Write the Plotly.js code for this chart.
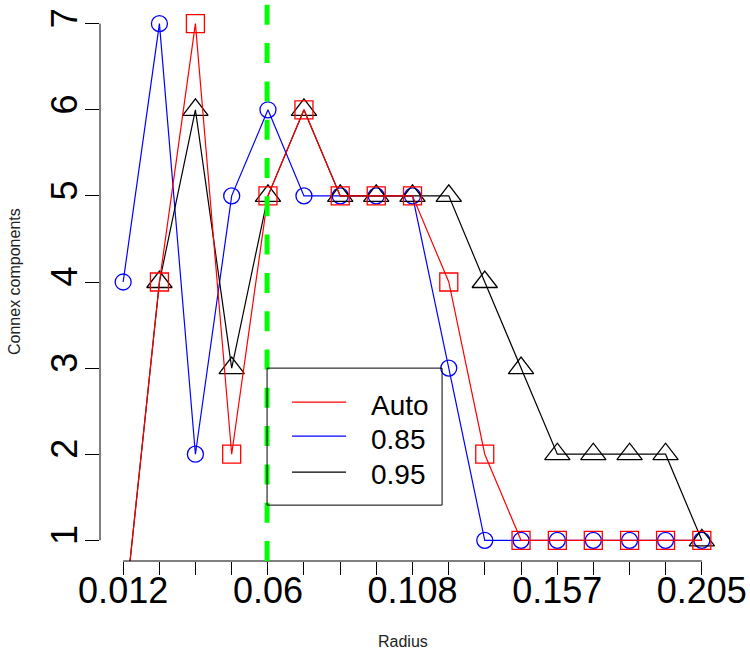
<!DOCTYPE html>
<html>
<head>
<meta charset="utf-8">
<script src="https://cdn.plot.ly/plotly-3.0.1.min.js"></script>
<style>
  html, body { margin: 0; padding: 0; background: #ffffff; }
  #chart { width: 750px; height: 656px; }
</style>
</head>
<body>
<div id="chart"></div>
<script>
// ---- data ----
const radius = [0.012, 0.0241, 0.0361, 0.0482, 0.0603, 0.0723, 0.0844, 0.0964, 0.1085,
                0.1206, 0.1326, 0.1447, 0.1568, 0.1688, 0.1809, 0.1929, 0.205];
const autoVals = [0, 4, 7, 2, 5, 6, 5, 5, 5, 4, 2, 1, 1, 1, 1, 1, 1];
const q85Vals  = [4, 7, 2, 5, 6, 5, 5, 5, 5, 3, 1, 1, 1, 1, 1, 1, 1];
const q95Vals  = [0, 4, 6, 3, 5, 6, 5, 5, 5, 5, 4, 3, 2, 2, 2, 2, 1];
const seriesNames = ["Auto", "0.85", "0.95"];
const xTickLabels = ["0.012", "", "", "", "0.06", "", "", "", "0.108", "", "", "",
                     "0.157", "", "", "", "0.205"];
const yTicks = [1, 2, 3, 4, 5, 6, 7];
const xTitle = "Radius";
const yTitle = "Connex components";
const cutoff = 0.06;
const legendAt = {x: 0.06, y: 3};

const FONT = "Liberation Sans, Arial, sans-serif";
const colors = {auto: "#FF0000", q85: "#0000FF", q95: "#000000"};

const traces = [
  {x: radius, y: q85Vals, name: seriesNames[1], mode: "lines+markers", showlegend: false,
   line: {color: colors.q85, width: 1.2},
   marker: {symbol: "circle-open", size: 16, color: colors.q85, line: {width: 1.3, color: colors.q85}}},
  {x: radius, y: q95Vals, name: seriesNames[2], mode: "lines+markers", showlegend: false,
   line: {color: colors.q95, width: 1.2},
   marker: {symbol: "triangle-up-open", size: 22, color: colors.q95, line: {width: 1.3, color: colors.q95}}},
  {x: radius, y: autoVals, name: seriesNames[0], mode: "lines+markers", showlegend: false,
   line: {color: colors.auto, width: 1.2},
   marker: {symbol: "square-open", size: 18, color: colors.auto, line: {width: 1.3, color: colors.auto}}}
];

const xSpan = radius[radius.length - 1] - radius[0];
const xPad = xSpan * 0.04;
const ySpan = yTicks[yTicks.length - 1] - yTicks[0];
const yPad = ySpan * 0.04;

const shapes = [
  // axis lines (R style, spanning first to last tick)
  {type: "line", xref: "x", yref: "paper", x0: radius[0], x1: radius[radius.length - 1], y0: 0, y1: 0,
   line: {color: "#000", width: 1}, layer: "above"},
  {type: "line", xref: "paper", yref: "y", x0: 0, x1: 0, y0: yTicks[0], y1: yTicks[yTicks.length - 1],
   line: {color: "#000", width: 1}, layer: "above"},
  // cutoff line
  {type: "line", xref: "x", yref: "paper", x0: cutoff, x1: cutoff, y0: 0, y1: 1,
   line: {color: "#00FF00", width: 5, dash: "20px,18.3px"}, layer: "above"},
  // legend box
  {type: "rect", xref: "x", yref: "y", xsizemode: "pixel", ysizemode: "pixel",
   xanchor: legendAt.x, yanchor: legendAt.y, x0: 0, x1: 175, y0: 0, y1: -137,
   line: {color: "#000", width: 1}, fillcolor: "rgba(0,0,0,0)", layer: "above"}
];

const legendRows = [
  {name: seriesNames[0], color: colors.auto, dy: 34, ty: 37},
  {name: seriesNames[1], color: colors.q85, dy: 68, ty: 71},
  {name: seriesNames[2], color: colors.q95, dy: 104, ty: 106}
];
const annotations = [
  {text: xTitle, xref: "paper", yref: "paper", x: 0.4848, y: -0.1434, xanchor: "center", yanchor: "middle",
   showarrow: false, font: {family: FONT, size: 16, color: "#222"}},
  {text: yTitle, xref: "paper", yref: "paper", x: -0.1376, y: 0.5, xanchor: "center", yanchor: "middle",
   textangle: -90, showarrow: false, font: {family: FONT, size: 16, color: "#222"}}
];
legendRows.forEach(r => {
  shapes.push({type: "line", xref: "x", yref: "y", xsizemode: "pixel", ysizemode: "pixel",
    xanchor: legendAt.x, yanchor: legendAt.y, x0: 25, x1: 79, y0: -r.dy, y1: -r.dy,
    line: {color: r.color, width: 1.3}, layer: "above"});
  annotations.push({x: legendAt.x, y: legendAt.y, xref: "x", yref: "y", xshift: 102, yshift: -r.ty,
    xanchor: "left", yanchor: "middle", showarrow: false, text: r.name,
    font: {family: FONT, size: 28, color: "#000"}});
});

const layout = {
  width: 750, height: 656,
  margin: {l: 100, r: 25, t: 3, b: 95},
  paper_bgcolor: "#ffffff", plot_bgcolor: "#ffffff",
  font: {family: FONT, color: "#000"},
  showlegend: false,
  xaxis: {
    range: [radius[0] - xPad, radius[radius.length - 1] + xPad],
    tickmode: "array", tickvals: radius, ticktext: xTickLabels, tickangle: 0,
    ticks: "outside", ticklen: 13, tickwidth: 1, tickcolor: "#000",
    showgrid: false, zeroline: false, showline: false, automargin: false,
    ticklabelstandoff: -15,
    tickfont: {family: FONT, size: 36, color: "#000"}
  },
  yaxis: {
    range: [yTicks[0] - yPad, yTicks[yTicks.length - 1] + yPad],
    tickmode: "array", tickvals: yTicks, ticktext: yTicks.map(String), tickangle: -90,
    ticks: "outside", ticklen: 14, tickwidth: 1, tickcolor: "#000",
    showgrid: false, zeroline: false, showline: false, automargin: false,
    ticklabelstandoff: -6,
    tickfont: {family: FONT, size: 36, color: "#000"}
  },
  shapes: shapes,
  annotations: annotations
};

Plotly.newPlot("chart", traces, layout, {displayModeBar: false, staticPlot: true});
</script>
</body>
</html>
